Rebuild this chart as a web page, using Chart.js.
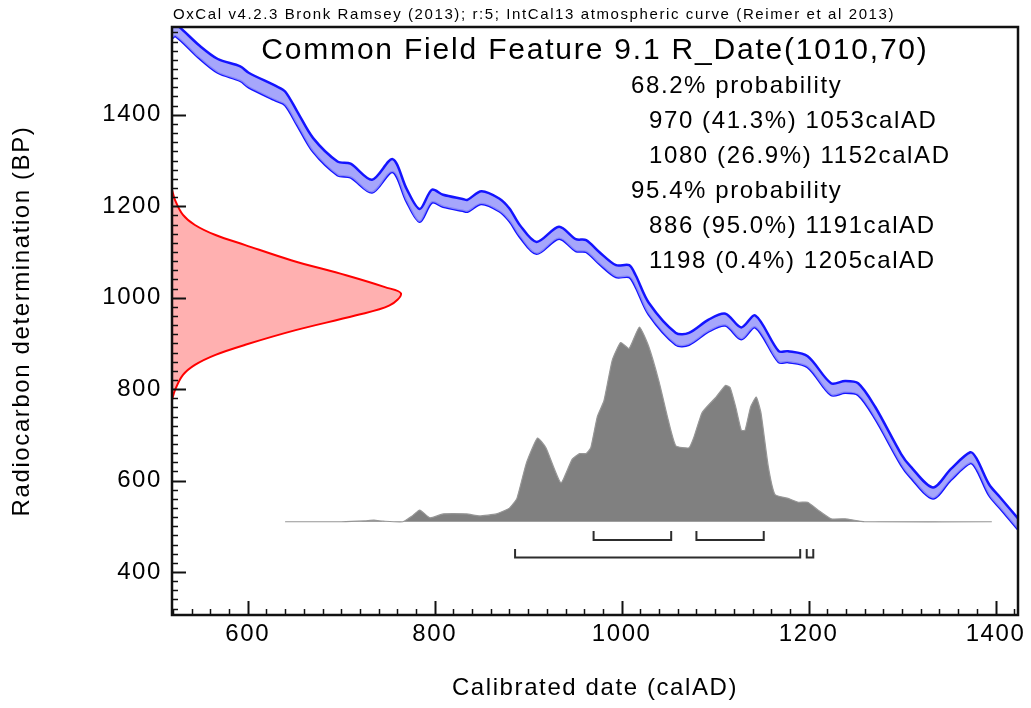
<!DOCTYPE html>
<html>
<head>
<meta charset="utf-8">
<script src="https://cdn.jsdelivr.net/npm/chart.js@4.4.1/dist/chart.umd.min.js"></script>
<style>
    body {
        margin: 0;
        background: #fff;
    }

    #wrap {
        width: 1031px;
        height: 708px;
        position: relative;
    }
</style>
</head>
<body>
<div id="wrap"><canvas id="myChart"></canvas></div>
<script>
// calibration curve (IntCal13), calAD vs BP, with 1 sigma
const curveYears = [519, 523, 548, 568, 592, 601, 630, 640, 653, 670, 696, 710, 733, 755, 770, 784, 797, 809, 830, 835, 850, 869, 880, 891, 909, 933, 951, 962, 976, 994, 1008, 1015, 1029, 1058, 1072, 1093, 1111, 1128, 1143, 1168, 1178, 1199, 1224, 1239, 1253, 1271, 1299, 1309, 1333, 1352, 1373, 1380, 1393, 1405, 1424];
const curveBP = [1580, 1585, 1538, 1507, 1490, 1476, 1447, 1436, 1392, 1334, 1283, 1278, 1244, 1289, 1224, 1180, 1222, 1212, 1203, 1201, 1219, 1203, 1181, 1146, 1109, 1142, 1115, 1113, 1087, 1058, 1058, 1036, 976, 910, 910, 939, 952, 922, 948, 871, 871, 860, 800, 805, 800, 749, 646, 619, 573, 613, 650, 635, 580, 551, 505];
const curveErr = [13, 13, 14, 15, 16, 16, 16, 15, 15, 15, 15, 15, 14, 14, 14, 14, 14, 13, 13, 13, 14, 14, 14, 13, 13, 13, 13, 13, 13, 13, 13, 13, 13, 13, 13, 13, 13, 13, 13, 12, 12, 12, 13, 13, 13, 13, 12, 12, 12, 12, 12, 12, 12, 12, 12];

// radiocarbon date R_Date(1010,70), relative probability
const dateBP = [1236, 1214, 1181, 1159, 1137, 1115, 1082, 1049, 1023, 1009, 983, 961, 929, 897, 875, 853, 831, 798, 776];
const dateProb = [0, 0.013, 0.048, 0.10, 0.19, 0.32, 0.52, 0.76, 0.93, 1.0, 0.95, 0.80, 0.54, 0.32, 0.19, 0.10, 0.048, 0.013, 0];

// calibrated distribution, relative probability
const calYears = [640, 700, 725, 735, 745, 766, 776, 784, 795, 809, 834, 848, 866, 880, 888, 898, 910, 919, 935, 947, 955, 962, 967, 974, 981, 990, 999, 1008, 1019, 1029, 1040, 1050, 1058, 1072, 1077, 1086, 1095, 1101, 1111, 1116, 1122, 1128, 1132, 1138, 1144, 1149, 1157, 1164, 1178, 1189, 1199, 1210, 1224, 1239, 1260, 1396];
const calProb = [0, 0, 0.004, 0.008, 0.003, 0, 0.03, 0.06, 0.02, 0.04, 0.04, 0.03, 0.04, 0.07, 0.12, 0.30, 0.43, 0.38, 0.20, 0.32, 0.35, 0.35, 0.38, 0.54, 0.62, 0.83, 0.92, 0.89, 1.0, 0.90, 0.72, 0.52, 0.39, 0.38, 0.43, 0.56, 0.61, 0.64, 0.70, 0.69, 0.59, 0.47, 0.47, 0.59, 0.64, 0.56, 0.28, 0.14, 0.12, 0.10, 0.10, 0.06, 0.015, 0.015, 0, 0];

// ranges
const range68 = [[970, 1053], [1080, 1152]];
const range95 = [[886, 1191], [1198, 1205]];

const xTicks = [600, 800, 1000, 1200, 1400];
const yTicks = [400, 600, 800, 1000, 1200, 1400];

const headerText = 'OxCal v4.2.3 Bronk Ramsey (2013); r:5; IntCal13 atmospheric curve (Reimer et al 2013)';
const titleText = 'Common Field Feature 9.1 R_Date(1010,70)';
const summaryLines = [
    '68.2% probability',
    '970 (41.3%) 1053calAD',
    '1080 (26.9%) 1152calAD',
    '95.4% probability',
    '886 (95.0%) 1191calAD',
    '1198 (0.4%) 1205calAD'
];

const FONT = "'Liberation Sans', Arial, sans-serif";


function bracketPoints(ranges, top, bottom) {
    let pts = [];
    for (let i = 0; i < ranges.length; i++) {
        let from = ranges[i][0];
        let to = ranges[i][1];
        pts.push({ x: from, y: top }, { x: from, y: bottom }, { x: to, y: bottom }, { x: to, y: top }, { x: null, y: null });
    }
    return pts;
}


const oxcalDecor = {
    id: 'oxcalDecor',
    beforeDraw(chart) {
        chart.ctx.letterSpacing = '1.6px';
    },
    afterDraw(chart) {
        const ctx = chart.ctx;
        const a = chart.chartArea;
        const sx = chart.scales.x;
        const sy = chart.scales.y;
        ctx.save();
        ctx.strokeStyle = '#111';

        // ticks pointing into the plot
        for (let v = 520; v <= sx.max; v += 20) {
            let px = Math.round(sx.getPixelForValue(v)) + 0.5;
            let major = v % 200 == 0;
            ctx.lineWidth = major ? 2 : 1.5;
            ctx.beginPath();
            ctx.moveTo(px, a.bottom);
            ctx.lineTo(px, a.bottom - (major ? 14 : 6));
            ctx.stroke();
        }
        for (let v = 320; v <= sy.max; v += 20) {
            let py = Math.round(sy.getPixelForValue(v)) + 0.5;
            let major = v % 200 == 0;
            ctx.lineWidth = major ? 2 : 1.5;
            ctx.beginPath();
            ctx.moveTo(a.left, py);
            ctx.lineTo(a.left + (major ? 14 : 6), py);
            ctx.stroke();
        }

        // frame
        ctx.lineWidth = 2.5;
        ctx.strokeRect(a.left, a.top, a.right - a.left, a.bottom - a.top);

        // texts
        ctx.fillStyle = '#000';
        ctx.textBaseline = 'middle';
        ctx.textAlign = 'left';
        ctx.letterSpacing = '1.6px';
        ctx.font = '15px ' + FONT;
        ctx.fillText(headerText, a.left + 1, 15);

        ctx.letterSpacing = '1.8px';
        ctx.textAlign = 'center';
        ctx.font = '30px ' + FONT;
        ctx.fillText(titleText, (a.left + a.right) / 2, 51);

        ctx.letterSpacing = '1.6px';
        ctx.textAlign = 'left';
        ctx.font = '24px ' + FONT;
        let rowY = [86, 121, 156, 191, 226, 261];
        for (let i = 0; i < summaryLines.length; i++) {
            let indent = summaryLines[i].indexOf('probability') > -1 ? 631 : 649;
            ctx.fillText(summaryLines[i], indent, rowY[i]);
        }
        ctx.restore();
        ctx.letterSpacing = '0px';
    }
};


function chart() {
    const upper = curveYears.map((x, i) => ({ x: x, y: curveBP[i] + curveErr[i] }));
    const lower = curveYears.map((x, i) => ({ x: x, y: curveBP[i] - curveErr[i] }));
    const dateCurve = dateBP.map((y, i) => ({ x: dateProb[i], y: y }));
    const calCurve = calYears.map((x, i) => ({ x: x, y: calProb[i] }));
    const brackets = bracketPoints(range68, -0.048, -0.094).concat(bracketPoints(range95, -0.140, -0.184));

    const data = {
        datasets: [{
            label: 'curve upper',
            data: upper,
            borderColor: 'rgb(20,20,255)',
            backgroundColor: 'rgba(150,150,250,0.85)',
            borderWidth: 2.5,
            fill: '+1',
            tension: 0.3
        }, {
            label: 'curve lower',
            data: lower,
            borderColor: 'rgb(20,20,255)',
            borderWidth: 2.5,
            fill: false,
            tension: 0.3
        }, {
            label: 'R_Date',
            data: dateCurve,
            xAxisID: 'xp',
            borderColor: 'rgb(255,0,0)',
            backgroundColor: 'rgb(255,176,176)',
            borderWidth: 2,
            fill: 'shape',
            tension: 0.35
        }, {
            label: 'calibrated',
            data: calCurve,
            yAxisID: 'yd',
            borderColor: 'rgb(150,150,150)',
            backgroundColor: 'rgb(128,128,128)',
            borderWidth: 1.2,
            fill: 'origin',
            tension: 0.15
        }, {
            label: 'ranges',
            data: brackets,
            yAxisID: 'yd',
            borderColor: 'rgb(45,45,45)',
            borderWidth: 2,
            fill: false,
            spanGaps: false,
            tension: 0
        }]
    };

    const config = {
        type: 'scatter',
        data: data,
        plugins: [oxcalDecor],
        options: {
            responsive: true,
            maintainAspectRatio: false,
            animation: false,
            devicePixelRatio: 1,
            showLine: true,
            elements: {
                point: { radius: 0 }
            },
            layout: {
                padding: { left: 0, right: 13, top: 27, bottom: 0 }
            },
            plugins: {
                legend: { display: false },
                tooltip: { enabled: false }
            },
            scales: {
                x: {
                    type: 'linear',
                    position: 'bottom',
                    min: 519,
                    max: 1424,
                    afterBuildTicks: (s) => { s.ticks = xTicks.map(v => ({ value: v })); },
                    afterFit: (s) => { s.height = 93; },
                    grid: { display: false, drawTicks: false },
                    border: { display: false },
                    ticks: {
                        color: '#000',
                        padding: 5,
                        maxRotation: 0,
                        callback: (v) => String(v),
                        font: { family: FONT, size: 24 }
                    },
                    title: {
                        display: true,
                        text: 'Calibrated date (calAD)',
                        color: '#000',
                        padding: { top: 0, bottom: 5 },
                        font: { family: FONT, size: 24 }
                    }
                },
                y: {
                    type: 'linear',
                    position: 'left',
                    min: 306,
                    max: 1592,
                    afterBuildTicks: (s) => { s.ticks = yTicks.map(v => ({ value: v })); },
                    afterFit: (s) => { s.width = 172; },
                    grid: { display: false, drawTicks: false },
                    border: { display: false },
                    ticks: {
                        color: '#000',
                        padding: 10,
                        callback: (v) => String(v),
                        font: { family: FONT, size: 24 }
                    },
                    title: {
                        display: true,
                        text: 'Radiocarbon determination (BP)',
                        color: '#000',
                        padding: { top: 8, bottom: 0 },
                        font: { family: FONT, size: 24 }
                    }
                },
                xp: {
                    type: 'linear',
                    display: false,
                    min: 0,
                    max: 3.694
                },
                yd: {
                    type: 'linear',
                    display: false,
                    min: -0.479,
                    max: 2.541
                }
            }
        }
    };

    new Chart(document.getElementById('myChart'), config);
}

chart();
</script>
</body>
</html>
